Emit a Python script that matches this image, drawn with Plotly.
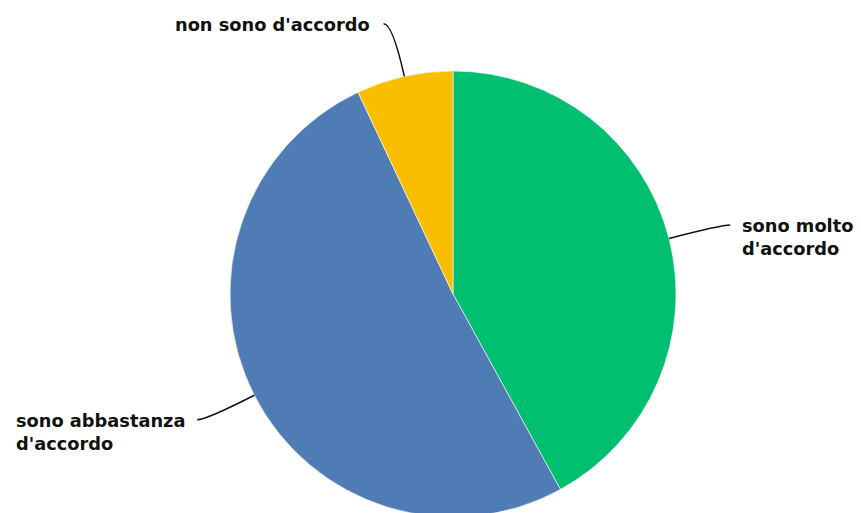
import math
import plotly.graph_objects as go

# data
labels = ["sono molto<br>d'accordo", "sono abbastanza<br>d'accordo", "non sono d'accordo"]
values = [42, 51, 7]
colors = ["#00BF6F", "#4F7CB5", "#F9BE00"]

# page is offset by the default 8px body margin; work in figure pixels
W, H = 853, 513
R = 223
MT = 63
MB = H - MT - 2 * R
CX, CY = 445, MT + R
PH = H - MT - MB

def px2paper(x, y):
    return x / W, (H - MB - y) / PH

fig = go.Figure(go.Pie(
    values=values, labels=labels, sort=False, direction="clockwise", rotation=0,
    marker=dict(colors=colors, line=dict(color="white", width=0.6)),
    textinfo="none", hoverinfo="label+value", showlegend=False,
    domain=dict(x=[(CX - R) / W, (CX + R) / W], y=[0, 1]),
))

font = dict(family="DejaVu Sans", size=17.8, color="#111111", weight="bold")
total = sum(values)
cum = 0
shapes, annotations = [], []
for lab, v in zip(labels, values):
    mid = (cum + v / 2) / total * 2 * math.pi
    cum += v
    s, c = math.sin(mid), math.cos(mid)
    x0, y0 = CX + R * s, CY - R * c
    Ro = R * 1.242
    x1, y1 = CX + Ro * s, CY - Ro * c
    side = 1 if s > 0 else -1
    x2, y2 = x1 + 9 * side, y1
    p0, p1, p2 = px2paper(x0, y0), px2paper(x1, y1), px2paper(x2, y2)
    shapes.append(dict(type="path", xref="paper", yref="paper",
                       path=f"M {p0[0]},{p0[1]} Q {p1[0]},{p1[1]} {p2[0]},{p2[1]}",
                       line=dict(color="#111111", width=1.5)))
    gap = 10 if abs(s) > 0.5 else 12
    tx = x2 + gap * side
    ax, ay = px2paper(tx, y2 - 12)
    annotations.append(dict(text=lab, xref="paper", yref="paper", x=ax, y=ay,
                            xanchor="left" if side > 0 else "right", yanchor="top",
                            align="left", showarrow=False, font=font))

fig.update_layout(width=W, height=H, margin=dict(l=0, r=0, t=MT, b=MB),
                  paper_bgcolor="white", plot_bgcolor="white",
                  shapes=shapes, annotations=annotations)
fig.write_html("out.html")
